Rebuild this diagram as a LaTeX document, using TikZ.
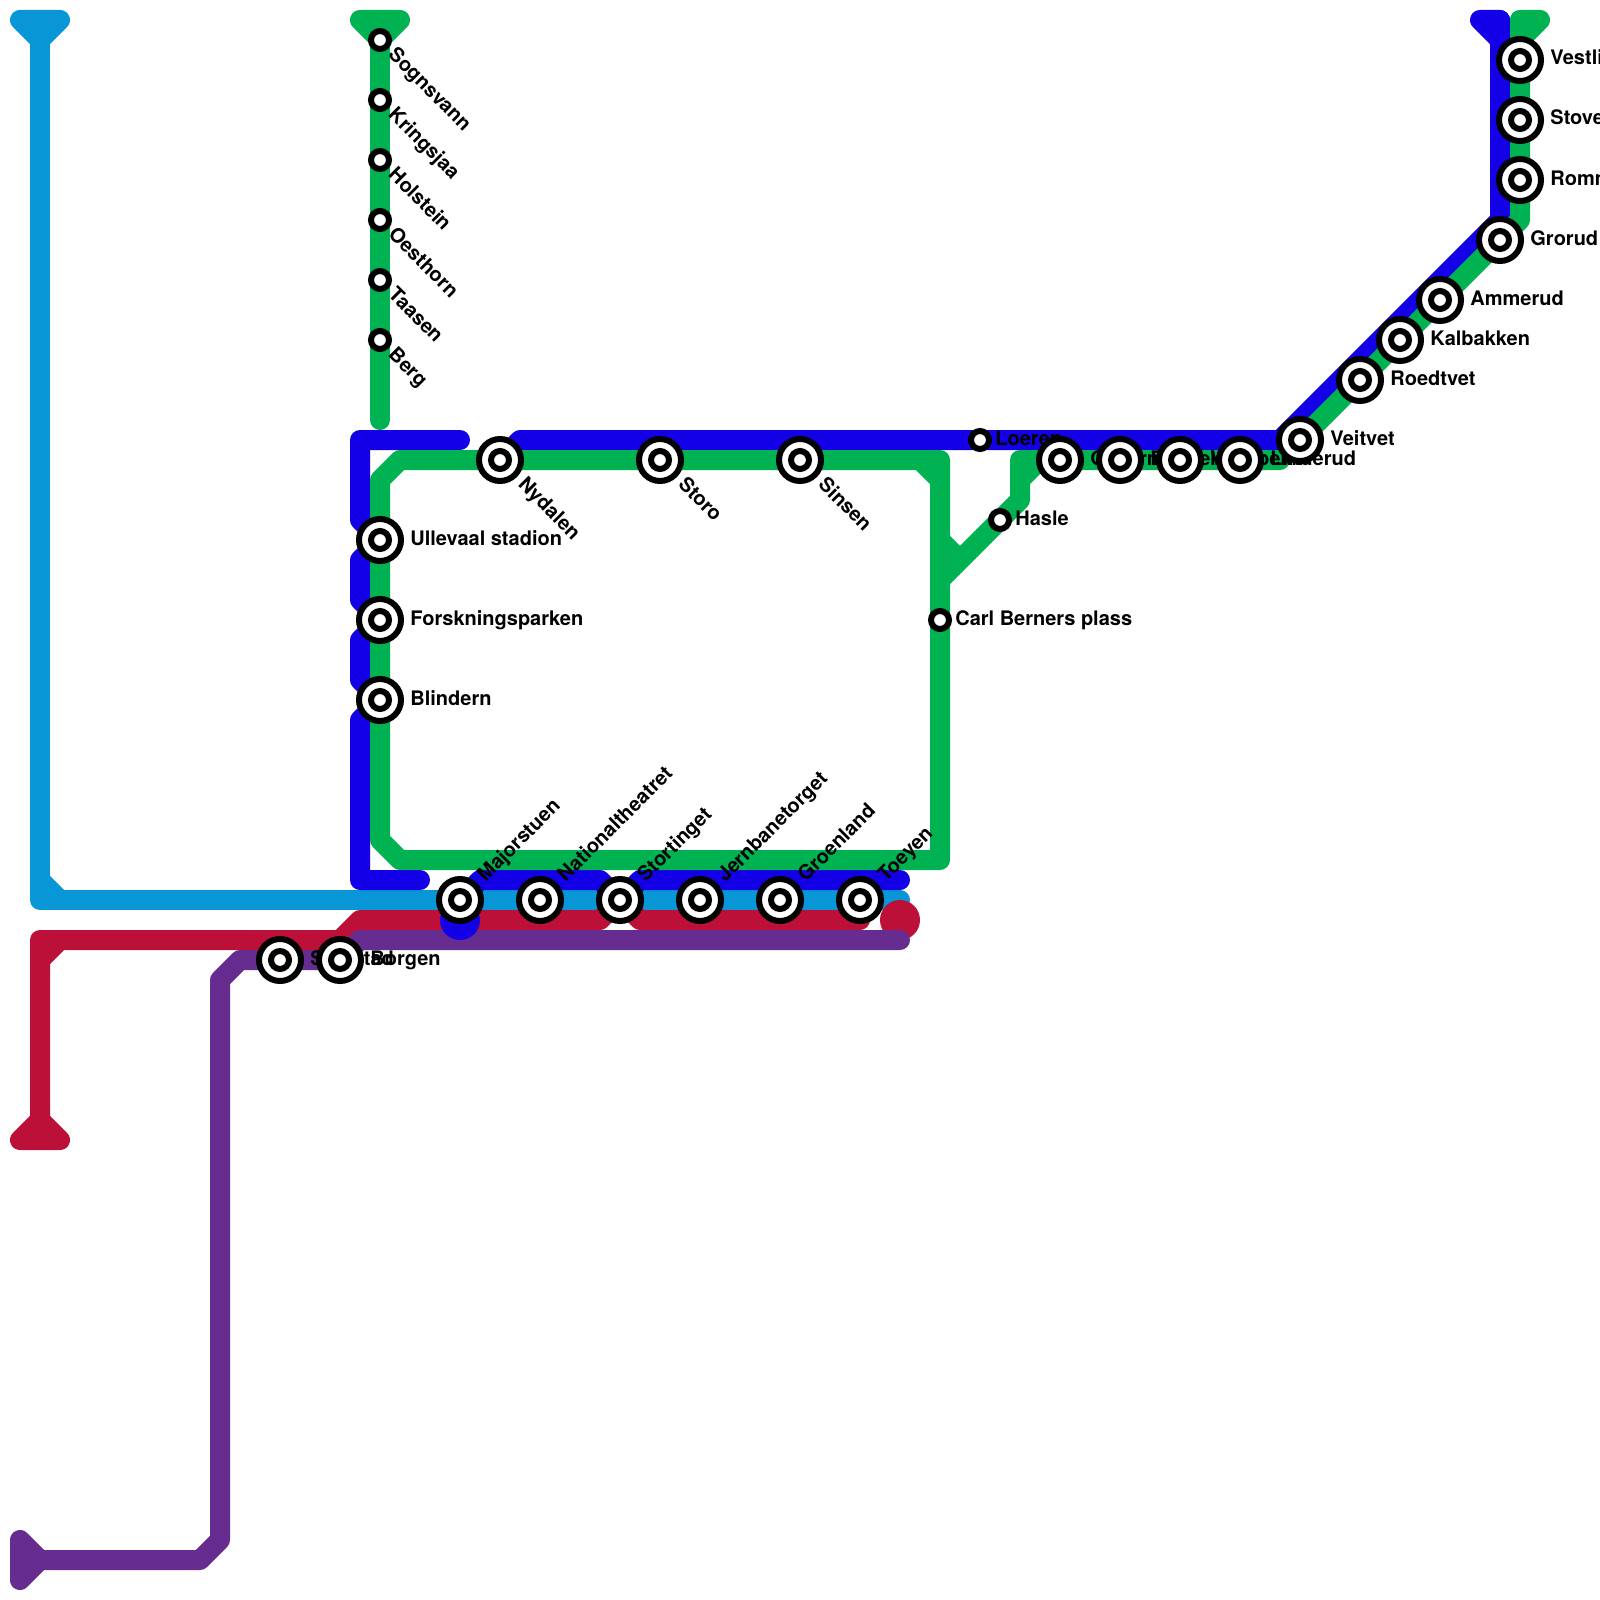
\documentclass[tikz,border=0pt]{standalone}
\usepackage{fontspec}
\setmainfont{TeX Gyre Heros}
\definecolor{lineblue}{HTML}{0896D7}
\definecolor{linered}{HTML}{BD1038}
\definecolor{linepurple}{HTML}{662C90}
\definecolor{lineindigo}{HTML}{1400E6}
\definecolor{linegreen}{HTML}{00B251}
\tikzset{
  route/.style={line width=10pt,line join=round,line cap=round},
  cornerfill/.style={line width=10pt,line cap=butt},
  termcap/.style={line width=10pt,line join=round},
  stnout/.style={circle,draw=black,fill=white,line width=3pt,minimum size=21pt,inner sep=0pt,outer sep=0pt},
  stnin/.style={circle,draw=black,fill=white,line width=3pt,minimum size=9pt,inner sep=0pt,outer sep=0pt},
  lab/.style={font=\bfseries\fontsize{10}{12}\selectfont,inner sep=0pt,text=black,anchor=base west},
}
\begin{document}
\begin{tikzpicture}[x=0.5pt,y=-0.5pt]
\useasboundingbox (0,0) rectangle (1600,1600);
\clip (0,0) rectangle (1600,1600);
% station positions
\foreach \n/\p in {sognsvann/{380,40},kringsjaa/{380,100},holstein/{380,160},oesthorn/{380,220},taasen/{380,280},berg/{380,340},
  ullevaal/{380,540},forskning/{380,620},blindern/{380,700},nydalen/{500,460},storo/{660,460},sinsen/{800,460},
  majorstuen/{460,900},nationalth/{540,900},stortinget/{620,900},jernbanet/{700,900},groenland/{780,900},toeyen/{860,900},
  smestad/{280,960},borgen/{340,960},loeren/{980,440},hasle/{1000,520},carl/{940,620},
  oekern/{1060,460},risloekka/{1120,460},vollebekk/{1180,460},linderud/{1240,460},veitvet/{1300,440},
  roedtvet/{1360,380},kalbakken/{1400,340},ammerud/{1440,300},grorud/{1500,240},
  rommen/{1520,180},stovner/{1520,120},vestli/{1520,60}}
  {\coordinate (\n) at (\p);}
% light blue line
\draw[route,lineblue] (40,20) -- (40,900) -- (900,900);
\draw[cornerfill,lineblue] (40,880) -- (60,900);
\draw[termcap,lineblue,fill=lineblue] (20,20) -- (60,20) -- (40,40) -- cycle;
% red line
\draw[route,linered] (40,1130) -- (40,940) -- (340,940) -- (360,920) -- (600,920) -- (stortinget) -- (640,920) -- (860,920);
\draw[cornerfill,linered] (40,960) -- (60,940);
\draw[termcap,linered,fill=linered] (20,1140) -- (60,1140) -- (40,1120) -- cycle;
\fill[linered] (900,920) circle (10pt);
% purple line
\draw[route,linepurple] (40,1560) -- (200,1560) -- (220,1540) -- (220,980) -- (240,960) -- (smestad) -- (borgen) -- (360,940) -- (900,940);
\draw[termcap,linepurple,fill=linepurple] (20,1540) -- (20,1580) -- (40,1560) -- cycle;
% indigo line
\fill[lineindigo] (460,920) circle (10pt);
\draw[route,lineindigo] (1500,20) -- (1500,220) -- (1280,440) -- (520,440) -- (nydalen);
\draw[termcap,lineindigo,fill=lineindigo] (1480,20) -- (1500,20) -- (1500,40) -- cycle;
\draw[route,lineindigo] (460,440) -- (360,440) -- (360,520) -- (ullevaal) -- (360,560) -- (360,600) -- (forskning) -- (360,640) -- (360,680) -- (blindern) -- (360,720) -- (360,880) -- (420,880);
\draw[route,lineindigo] (majorstuen) -- (480,880) -- (600,880) -- (stortinget) -- (640,880) -- (900,880);
% green lines
\draw[route,linegreen] (380,20) -- (380,420);
\draw[termcap,linegreen,fill=linegreen] (360,20) -- (400,20) -- (380,40) -- cycle;
\draw[route,linegreen] (400,860) -- (940,860) -- (940,460) -- (400,460) -- (380,480) -- (380,840) -- cycle;
\draw[cornerfill,linegreen] (920,460) -- (940,480);
\draw[cornerfill,linegreen] (940,540) -- (960,560);
\draw[route,linegreen] (940,580) -- (1020,500) -- (1020,460) -- (1280,460);
\draw[route,linegreen] (1020,480) -- (1040,460);
\draw[route,linegreen] (veitvet) -- (1520,220) -- (1520,20);
\draw[termcap,linegreen,fill=linegreen] (1520,20) -- (1540,20) -- (1520,40) -- cycle;
% labels: right of station
\foreach \c/\t/\dx in {ullevaal/Ullevaal stadion/30,forskning/Forskningsparken/30,blindern/Blindern/30,
  smestad/Smestad/30,borgen/Borgen/30,loeren/Loeren/15,hasle/Hasle/15,carl/Carl Berners plass/15,
  oekern/Oekern/30,risloekka/Risloekka/30,vollebekk/Vollebekk/30,linderud/Linderud/30,veitvet/Veitvet/30,
  roedtvet/Roedtvet/30,kalbakken/Kalbakken/30,ammerud/Ammerud/30,grorud/Grorud/30,
  rommen/Rommen/30,stovner/Stovener/30,vestli/Vestli/30}
  {\node[lab,xshift=\dx*0.5pt,yshift=-2.5pt] at (\c) {\t};}
% labels: diagonal down
\foreach \c/\t in {sognsvann/Sognsvann,kringsjaa/Kringsjaa,holstein/Holstein,oesthorn/Oesthorn,taasen/Taasen,berg/Berg}
  {\node[lab,rotate=-45,xshift=8pt,yshift=-3pt] at (\c) {\t};}
\foreach \c/\t in {nydalen/Nydalen,storo/Storo,sinsen/Sinsen}
  {\node[lab,rotate=-45,xshift=15pt,yshift=-3pt] at (\c) {\t};}
% labels: diagonal up
\foreach \c/\t in {majorstuen/Majorstuen,nationalth/Nationaltheatret,stortinget/Stortinget,jernbanet/Jernbanetorget,groenland/Groenland,toeyen/Toeyen}
  {\node[lab,rotate=45,xshift=15pt,yshift=-3pt] at (\c) {\t};}
% interchange stations
\foreach \c in {ullevaal,forskning,blindern,nydalen,storo,sinsen,majorstuen,nationalth,stortinget,jernbanet,groenland,toeyen,
  smestad,borgen,oekern,risloekka,vollebekk,linderud,veitvet,roedtvet,kalbakken,ammerud,grorud,rommen,stovner,vestli}
  {\node[stnout] (\c-ring) at (\c) {};\node[stnin] (\c-dot) at (\c) {};}
% plain stations
\foreach \c in {sognsvann,kringsjaa,holstein,oesthorn,taasen,berg,loeren,hasle,carl}
  {\node[stnin] (\c-dot) at (\c) {};}
\end{tikzpicture}
\end{document}
